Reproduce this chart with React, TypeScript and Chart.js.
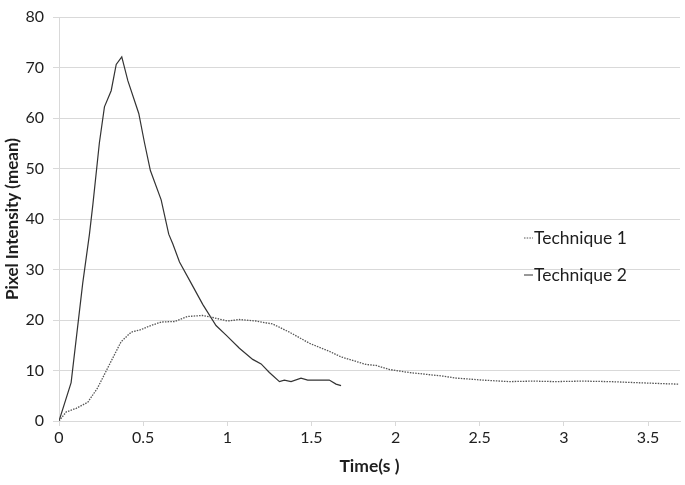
import React, { useEffect, useRef } from "react";
import { Chart, registerables } from "chart.js";

Chart.register(...registerables);

const seriesNames = ["Technique 1", "Technique 2"];

const t1Time = [0, 0.043, 0.102, 0.171, 0.23, 0.3, 0.369, 0.429, 0.488, 0.537, 0.607, 0.686, 0.765, 0.854, 0.913, 1.002, 1.072, 1.171, 1.27, 1.369, 1.488, 1.606, 1.676, 1.745, 1.824, 1.884, 1.963, 2.081, 2.279, 2.359, 2.517, 2.675, 2.814, 2.952, 3.11, 3.269, 3.427, 3.585, 3.684];
const t1Intensity = [0, 1.8, 2.5, 3.7, 6.6, 11.2, 15.7, 17.6, 18.1, 18.8, 19.6, 19.7, 20.7, 20.9, 20.5, 19.8, 20.1, 19.8, 19.2, 17.6, 15.4, 13.8, 12.7, 12.0, 11.2, 11.0, 10.2, 9.6, 8.9, 8.5, 8.1, 7.8, 7.9, 7.8, 7.9, 7.8, 7.6, 7.4, 7.3];

const t2Time = [0, 0.072, 0.141, 0.181, 0.201, 0.24, 0.27, 0.31, 0.34, 0.373, 0.409, 0.474, 0.508, 0.543, 0.607, 0.652, 0.676, 0.716, 0.785, 0.854, 0.933, 0.993, 1.072, 1.151, 1.201, 1.25, 1.31, 1.339, 1.379, 1.438, 1.478, 1.606, 1.646, 1.676];
const t2Intensity = [0, 7.6, 27.3, 37.0, 42.8, 55.1, 62.2, 65.4, 70.6, 72.1, 67.4, 60.9, 55.1, 49.6, 43.8, 37.0, 35.1, 31.5, 27.3, 23.1, 18.9, 17.0, 14.4, 12.2, 11.3, 9.6, 7.8, 8.1, 7.8, 8.5, 8.1, 8.1, 7.3, 7.0];

const xTicks = [0, 0.5, 1, 1.5, 2, 2.5, 3, 3.5];
const yTicks = [0, 10, 20, 30, 40, 50, 60, 70, 80];
const xAxisTitle = "Time(s )";
const yAxisTitle = "Pixel Intensity (mean)";

const FONT = "Lato, 'Open Sans', 'Noto Sans', sans-serif";
const TEXT = "#1e1e1e";
const GRID = "#d9d9d9";

const insideLegend = {
  id: "insideLegend",
  afterDraw(chart: any) {
    const ctx = chart.ctx;
    ctx.save();
    chart.data.datasets.forEach((ds: any, i: number) => {
      const y = 238 + i * 37;
      ctx.beginPath();
      ctx.strokeStyle = ds.borderColor;
      ctx.lineWidth = 1;
      ctx.setLineDash(ds.borderDash || []);
      ctx.moveTo(524, y);
      ctx.lineTo(533, y);
      ctx.stroke();
      ctx.setLineDash([]);
      ctx.fillStyle = TEXT;
      ctx.font = `17.5px ${FONT}`;
      ctx.textBaseline = "middle";
      ctx.textAlign = "left";
      ctx.fillText(ds.label, 534, y);
    });
    ctx.restore();
  },
};

export default function App() {
  const ref = useRef<HTMLCanvasElement | null>(null);

  useEffect(() => {
    if (!ref.current) return;
    const chart = new Chart(ref.current, {
      type: "line",
      data: {
        datasets: [
          {
            label: seriesNames[0],
            data: t1Time.map((t, i) => ({ x: t, y: t1Intensity[i] })),
            borderColor: "#555555",
            borderWidth: 1.3,
            borderDash: [1.5, 1.2],
            pointRadius: 0,
            tension: 0,
            fill: false,
          },
          {
            label: seriesNames[1],
            data: t2Time.map((t, i) => ({ x: t, y: t2Intensity[i] })),
            borderColor: "#333333",
            borderWidth: 1.2,
            pointRadius: 0,
            tension: 0,
            fill: false,
          },
        ],
      },
      options: {
        animation: false,
        responsive: false,
        devicePixelRatio: 1,
        layout: { padding: { left: 0, top: 8, right: 5, bottom: 0 } },
        plugins: { legend: { display: false }, tooltip: { enabled: false } },
        scales: {
          x: {
            type: "linear",
            min: 0,
            max: 3.69,
            afterBuildTicks: (s: any) => {
              s.ticks = xTicks.map((v) => ({ value: v }));
            },
            ticks: {
              font: { family: FONT, size: 16, lineHeight: 1 },
              color: TEXT,
              padding: 4,
              maxRotation: 0,
              autoSkip: false,
              callback: (v: any) => String(v),
            },
            grid: {
              drawOnChartArea: false,
              drawTicks: true,
              tickLength: 5,
              color: GRID,
            },
            border: { display: true, color: GRID },
            title: {
              display: true,
              text: xAxisTitle,
              color: TEXT,
              font: { family: FONT, size: 17.5, weight: "bold", lineHeight: 1.2 },
              padding: { top: 0, bottom: 8 },
            },
            afterFit: (s: any) => {
              s.height = 64;
            },
          },
          y: {
            type: "linear",
            min: 0,
            max: 80,
            afterBuildTicks: (s: any) => {
              s.ticks = yTicks.map((v) => ({ value: v }));
            },
            ticks: {
              font: { family: FONT, size: 16, lineHeight: 1 },
              color: TEXT,
              padding: 9,
              autoSkip: false,
            },
            grid: { color: GRID, lineWidth: 1, tickLength: 6, drawTicks: true },
            border: { display: true, color: GRID },
            title: {
              display: true,
              text: yAxisTitle,
              color: TEXT,
              font: { family: FONT, size: 17, weight: "bold", lineHeight: 1.2 },
              padding: { top: 2, bottom: 0 },
            },
            afterFit: (s: any) => {
              s.width = 59;
            },
          },
        },
      },
      plugins: [insideLegend],
    } as any);
    return () => chart.destroy();
  }, []);

  return (
    <div style={{ position: "fixed", left: 0, top: 0, width: 685, height: 485, background: "#fff" }}>
      <canvas ref={ref} width={685} height={485} style={{ width: 685, height: 485, display: "block" }} />
    </div>
  );
}
